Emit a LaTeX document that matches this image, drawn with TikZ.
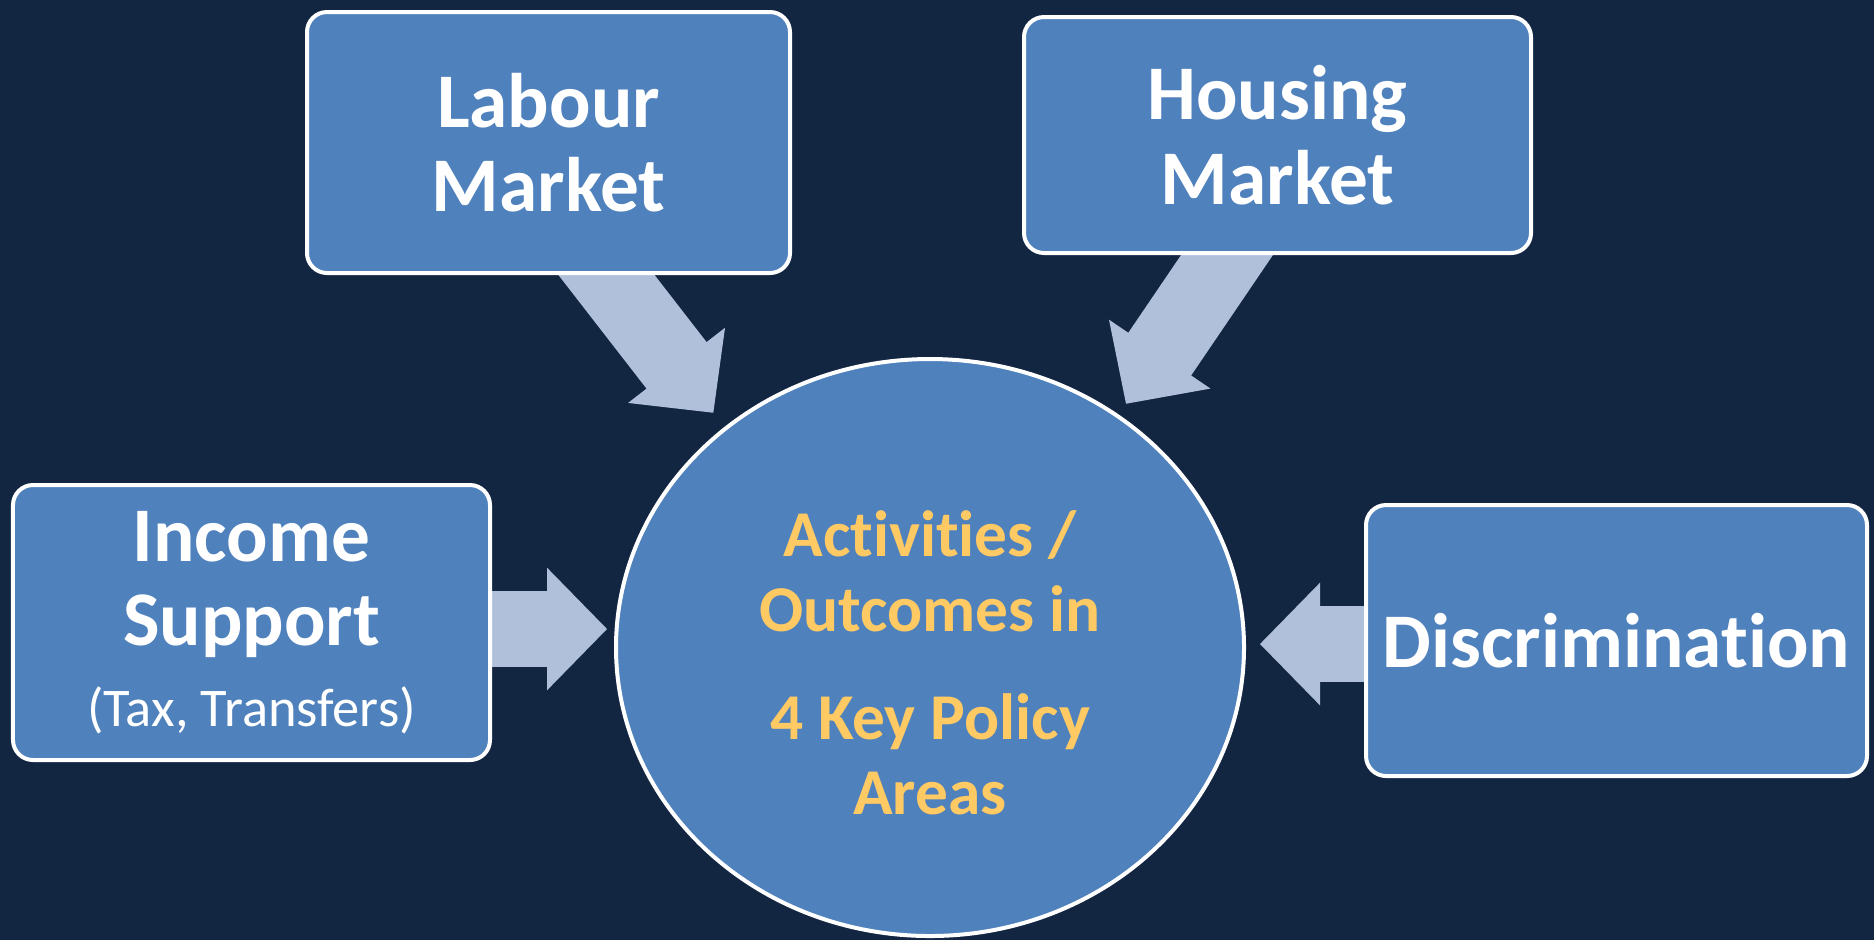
\documentclass[tikz,border=0pt]{standalone}
\usepackage{fontspec}
\setmainfont{Carlito}[Ligatures=NoCommon]
\usetikzlibrary{positioning,shapes.geometric,arrows.meta,backgrounds}

\definecolor{slidebg}{RGB}{18,37,65}
\definecolor{boxblue}{RGB}{79,129,189}
\definecolor{flowblue}{RGB}{176,192,219}
\definecolor{areagold}{RGB}{255,201,99}

\tikzset{
  factor/.style={draw=white, line width=0.04cm, fill=boxblue, rounded corners=0.2cm,
    text=white, font=\fontsize{22}{24}\selectfont\bfseries, align=center, inner sep=0pt},
  hub/.style={ellipse, draw=white, line width=0.04cm, fill=boxblue, text=areagold,
    font=\fontsize{18.6}{21.3}\selectfont\bfseries, align=center, inner sep=0pt,
    minimum width=6.28cm, minimum height=5.77cm},
  flow/.style={draw=flowblue, line width=0.76cm,
    -{Triangle[length=0.6cm,width=1.22cm,line width=1pt]}}
}

\begin{document}
\begin{tikzpicture}
        \useasboundingbox (0,0) rectangle (18.74,-9.40);

        \node [hub] (act) at (9.30,-6.475) {\rule{0pt}{0.76cm}Activities /\\ Outcomes in\\[9.4pt] 4 Key Policy\\ Areas};
        \node [factor, on grid, above left=5.05cm and 3.815cm of act, minimum width=4.83cm, minimum height=2.61cm] (labour) {Labour\\ Market};
        \node [factor, on grid, above right=5.125cm and 3.475cm of act, minimum width=5.07cm, minimum height=2.36cm] (housing) {Housing\\ Market};
        \node [factor, on grid, above left=0.25cm and 6.785cm of act, minimum width=4.77cm, minimum height=2.75cm] (income) {Income\\ Support\\[-1.1pt] {\fontsize{15.5}{22.8}\selectfont\mdseries (Tax, Transfers)}};
        \node [factor, on grid, above right=0.07cm and 6.865cm of act, minimum width=5.01cm, minimum height=2.71cm] (disc) {Discrimination};

        \begin{scope}[on background layer]
          \fill [slidebg] (0,0) rectangle (18.74,-9.40);
          \draw [flow, shorten <=-0.5cm, shorten >=0.18cm] ([xshift=0.58cm]labour.south) to (act.133);
          \draw [flow, shorten <=-0.5cm, shorten >=0.13cm] ([xshift=-0.505cm]housing.south) to (act.51);
          \draw [flow, shorten >=0.07cm] ([yshift=-0.065cm]income.east) to ([yshift=-0.065cm]income.east -| act.west);
          \draw [flow, shorten >=0.14cm] ([yshift=-0.035cm]disc.west) to ([yshift=-0.035cm]disc.west -| act.east);
        \end{scope}
\end{tikzpicture}
\end{document}
